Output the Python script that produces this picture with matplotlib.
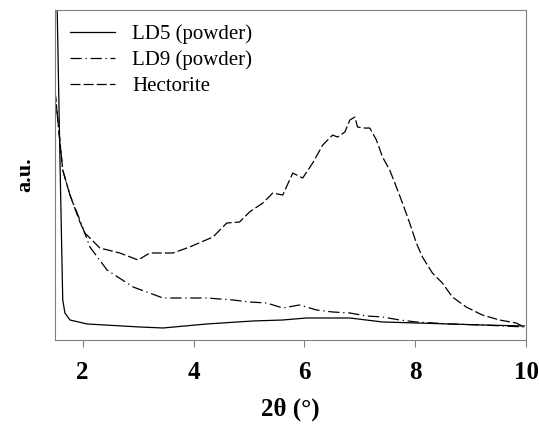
import matplotlib
matplotlib.use("Agg")
import matplotlib.pyplot as plt

# LD5 (powder)
ld5_x = [1.50, 1.54, 1.59, 1.64, 1.68, 1.77, 2.08, 3.03, 3.45, 4.24, 5.07, 5.61,
         6.04, 6.82, 7.41, 8.02, 8.62, 9.21, 9.97]
ld5_y = [400, 330, 180, 40, 27, 20, 16, 13, 12, 16, 19, 20,
         22, 22, 18, 17, 16, 15, 14]

# LD9 (powder)
ld9_x = [1.50, 1.64, 1.77, 1.95, 2.13, 2.44, 2.91, 3.45, 3.81, 4.24, 4.71, 5.01,
         5.32, 5.61, 5.91, 6.22, 6.51, 6.82, 7.12, 7.41, 7.72, 8.02, 8.62, 9.21, 9.97]
ld9_y = [249, 170, 145, 120, 93, 70, 53, 42, 42, 42, 40, 38,
         37, 32, 35, 30, 28, 27, 24, 23, 20, 18, 16, 15, 13]

# Hectorite
hec_x = [1.50, 1.64, 1.77, 1.95, 2.04, 2.31, 2.67, 3.00, 3.21, 3.63, 3.93, 4.35,
         4.60, 4.83, 5.01, 5.25, 5.43, 5.61, 5.79, 5.97, 6.15, 6.33, 6.51, 6.60,
         6.73, 6.82, 6.91, 6.96, 7.09, 7.18, 7.30, 7.41, 7.54, 7.66, 7.77, 7.90,
         8.02, 8.13, 8.31, 8.49, 8.67, 8.92, 9.21, 9.52, 9.82, 9.97]
hec_y = [249, 170, 145, 118, 107, 92, 87, 80, 87, 87, 93, 103,
         117, 118, 128, 137, 147, 145, 167, 162, 177, 195, 205, 203,
         208, 220, 223, 213, 212, 212, 200, 183, 170, 153, 137, 117,
         97, 83, 67, 57, 43, 33, 25, 20, 17, 13]

x_ticks = [2, 4, 6, 8, 10]

plt.rcParams['font.family'] = ['Liberation Serif', 'DejaVu Serif']

fig = plt.figure(figsize=(5.39, 4.29), dpi=100)
ax = fig.add_axes([0.102, 0.2075, 0.874, 0.769])

ax.plot(ld5_x, ld5_y, color="black", lw=0.9, label="LD5 (powder)")
ax.plot(ld9_x, ld9_y, color="black", lw=0.9, dashes=(9, 3, 1, 3), label="LD9 (powder)")
ax.plot(hec_x, hec_y, color="black", lw=0.9, dashes=(8, 2.5), label="Hectorite")

ax.set_xlim(1.5, 10)
ax.set_ylim(0, 330)
ax.set_xticks(x_ticks)
ax.set_xticklabels([str(t) for t in x_ticks], fontsize=18, fontweight="bold")
ax.set_yticks([])
ax.tick_params(axis="x", direction="out", length=5, color="#808080", pad=10)

for s in ax.spines.values():
    s.set_color("#808080")

ax.set_xlabel("2θ (°)", fontsize=18, fontweight="bold", labelpad=10)
ax.set_ylabel("a.u.", fontsize=16, fontweight="bold", labelpad=14)

ax.legend(loc="upper left", frameon=False, fontsize=15, handlelength=2.2,
          borderaxespad=0.2, labelspacing=0.3, handletextpad=0.8,
          borderpad=0.5)

fig.savefig("out.png", dpi=100)
